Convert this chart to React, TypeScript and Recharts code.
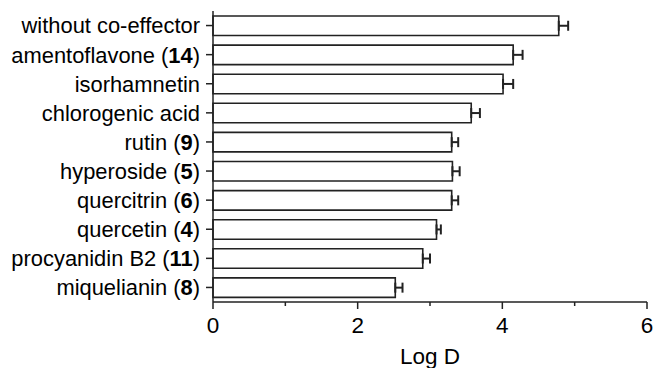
import React from "react";
import { BarChart, Bar, XAxis, YAxis, ErrorBar } from "recharts";

const compounds = [
  "without co-effector",
  "amentoflavone",
  "isorhamnetin",
  "chlorogenic acid",
  "rutin",
  "hyperoside",
  "quercitrin",
  "quercetin",
  "procyanidin B2",
  "miquelianin",
];
const compoundNumbers = [null, 14, null, null, 9, 5, 6, 4, 11, 8];
const logD = [4.78, 4.15, 4.01, 3.57, 3.3, 3.31, 3.3, 3.09, 2.9, 2.52];
const logDError = [0.13, 0.13, 0.14, 0.12, 0.09, 0.1, 0.09, 0.06, 0.1, 0.1];
const xTicks = [0, 1, 2, 3, 4, 5, 6];

const data = compounds.map((name, i) => ({
  name,
  num: compoundNumbers[i],
  logD: logD[i],
  err: [0, logDError[i]],
}));

const FONT = "'Liberation Sans', Arial, sans-serif";
const INK = "#222";

const YTick = (props: any) => {
  const { x, y, payload } = props;
  const row = data.find((d) => d.name === payload.value);
  return (
    <text
      x={x}
      y={y}
      dy="0.36em"
      textAnchor="end"
      fontFamily={FONT}
      fontSize={21.9}
      fill="#000"
    >
      {row && row.num != null ? (
        <>
          <tspan>{payload.value + " ("}</tspan>
          <tspan fontWeight="bold">{row.num}</tspan>
          <tspan>)</tspan>
        </>
      ) : (
        payload.value
      )}
    </text>
  );
};

const XTick = (props: any) => {
  const { x, y, payload } = props;
  const major = payload.value % 2 === 0;
  return (
    <g>
      <line x1={x} x2={x} y1={y} y2={y + (major ? 7 : 4)} stroke={INK} strokeWidth={1.5} />
      {major && (
        <text x={x} y={y + 31} textAnchor="middle" fontFamily={FONT} fontSize={22.5} fill="#000">
          {payload.value}
        </text>
      )}
    </g>
  );
};

export default function App() {
  return (
    <div style={{ position: "absolute", left: 0, top: 0, background: "#fff" }}>
      <BarChart
        width={654}
        height={368}
        data={data}
        layout="vertical"
        margin={{ top: 11, right: 7, bottom: 0, left: 0 }}
        barSize={19.5}
      >
        <XAxis
          type="number"
          domain={[0, 6]}
          ticks={xTicks}
          interval={0}
          tickLine={false}
          tickSize={0}
          tickMargin={0}
          height={66}
          axisLine={{ stroke: INK, strokeWidth: 1.5 }}
          tick={<XTick />}
          label={{
            value: "Log D",
            position: "insideBottom",
            offset: 4,
            fontFamily: FONT,
            fontSize: 22.5,
            fill: "#000",
          }}
        />
        <YAxis
          type="category"
          dataKey="name"
          width={213}
          interval={0}
          tickSize={7}
          tickMargin={6}
          tickLine={{ stroke: INK, strokeWidth: 1.5 }}
          axisLine={{ stroke: INK, strokeWidth: 1.5 }}
          tick={<YTick />}
        />
        <Bar
          dataKey="logD"
          fill="#fff"
          stroke={INK}
          strokeWidth={1.6}
          isAnimationActive={false}
        >
          <ErrorBar
            dataKey="err"
            direction="x"
            width={5}
            stroke={INK}
            strokeWidth={2}
            isAnimationActive={false}
          />
        </Bar>
      </BarChart>
    </div>
  );
}
